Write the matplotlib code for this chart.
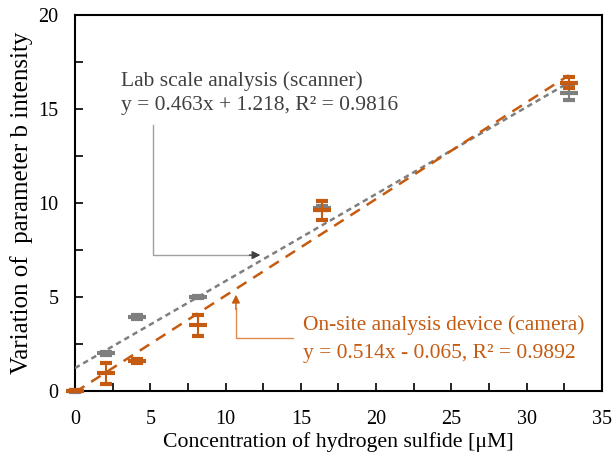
import matplotlib.pyplot as plt
import numpy as np

plt.rcParams['font.family'] = ['Liberation Serif', 'DejaVu Serif']

# H2S concentrations [uM]
conc = [0, 2.05, 4.1, 8.2, 16.4, 32.8]

# scanner (lab scale) - mean and error
scan_y = [0.0, 2.0, 3.95, 5.02, 9.72, 15.85]
scan_err = [0.03, 0.1, 0.1, 0.05, 0.1, 0.35]

# camera (on-site device) - mean and error
cam_y = [0.02, 0.94, 1.58, 3.5, 9.62, 16.4]
cam_err = [0.03, 0.55, 0.1, 0.55, 0.5, 0.3]

# linear fits (from chart labels)
scan_fit = (0.463, 1.218)
cam_fit = (0.514, -0.065)

gray = '#7f7f7f'
orange = '#c55a11'

fig = plt.figure(figsize=(6.13, 4.61), dpi=100)
ax = fig.add_axes([0.1223, 0.1518, 0.8597, 0.8157])

xf = np.array([conc[0], conc[-1]])
ax.plot(xf, scan_fit[0] * xf + scan_fit[1], color=gray, lw=1.8,
        dashes=(2.2, 1.6), zorder=3)
ax.plot(xf, cam_fit[0] * xf + cam_fit[1], color=orange, lw=1.8,
        dashes=(4.5, 3.2), zorder=3)

for y, e, c, z in [(scan_y, scan_err, gray, 4), (cam_y, cam_err, orange, 5)]:
    eb = ax.errorbar(conc, y, yerr=e, fmt='_', color=c, ms=13, mew=3,
                     elinewidth=1.5, capsize=4, capthick=1.5, zorder=z)
    for art in eb.get_children():
        art.set_clip_on(False)

ax.set_xlim(0, 35)
ax.set_ylim(0, 20)
ax.set_xticks(np.arange(0, 36, 5))
ax.set_yticks(np.arange(0, 21, 5))
ax.set_xticks(np.arange(0, 36, 2.5), minor=True)
ax.set_yticks(np.arange(0, 21, 2.5), minor=True)
ax.tick_params(which='both', direction='in', length=6, width=1.2, labelsize=14.5,
               colors='black')
ax.tick_params(axis='x', pad=14)
ax.tick_params(axis='y', pad=12)
for s in ax.spines.values():
    s.set_linewidth(1.5)

ax.set_xlabel('Concentration of hydrogen sulfide [\u03bcM]', fontsize=15.7, labelpad=2)
ax.set_ylabel('Variation of  parameter b intensity', fontsize=18, labelpad=4)

# scanner annotation
ax.text(3.05, 16.5, 'Lab scale analysis (scanner)', color='#404040', fontsize=15.5,
        va='center', ha='left')
ax.text(3.05, 15.2, 'y = 0.463x + 1.218, R\u00b2 = 0.9816', color='#404040',
        fontsize=15.5, va='center', ha='left')
ax.plot([5.18, 5.18, 11.6], [14.15, 7.23, 7.23], color='#a0a0a0', lw=1.0,
        zorder=2)
ax.annotate('', xy=(12.5, 7.23), xytext=(11.4, 7.23),
            arrowprops=dict(arrowstyle='-|>', color='#404040', lw=1.0,
                            mutation_scale=12))

# camera annotation
ax.text(15.14, 3.5, 'On-site analysis device (camera)', color=orange,
        fontsize=15.5, va='center', ha='left')
ax.text(15.14, 2.0, 'y = 0.514x - 0.065, R\u00b2 = 0.9892', color=orange,
        fontsize=15.5, va='center', ha='left')
ax.plot([14.48, 10.69, 10.69], [2.82, 2.82, 4.4], color='#e08a50', lw=1.0,
        zorder=2)
ax.annotate('', xy=(10.69, 5.27), xytext=(10.69, 4.2),
            arrowprops=dict(arrowstyle='-|>', color=orange, lw=1.0,
                            mutation_scale=12))

fig.savefig('out.png', dpi=100)
